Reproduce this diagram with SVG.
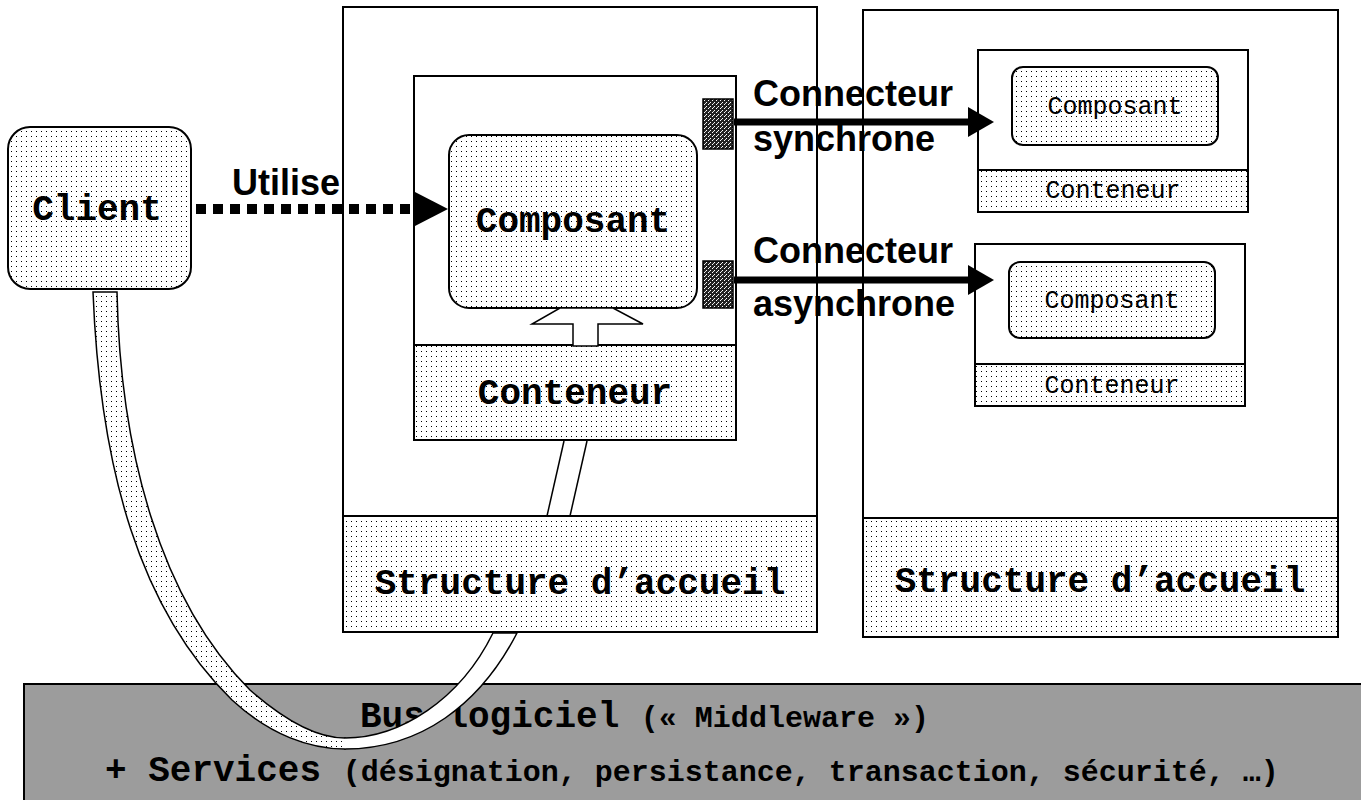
<svg xmlns="http://www.w3.org/2000/svg" width="1361" height="800" viewBox="0 0 1361 800">
  <defs>
    <!-- light stipple used for components, containers and host bands -->
    <pattern id="dots" width="5" height="5" patternUnits="userSpaceOnUse">
      <rect width="5" height="5" fill="#fff"/>
      <rect x="1" y="1" width="1" height="1" fill="#000"/>
    </pattern>
    <!-- dense dark texture of the connector ports -->
    <pattern id="dark" width="4" height="4" patternUnits="userSpaceOnUse">
      <rect width="4" height="4" fill="#222"/>
      <rect x="0" y="0" width="1" height="1" fill="#fff"/>
      <rect x="2" y="2" width="1" height="1" fill="#fff"/>
      <rect x="1" y="3" width="1" height="1" fill="#ddd"/>
    </pattern>
  </defs>
  <style>
    .box { fill: #fff; stroke: #000; stroke-width: 2; }
    .dotted { fill: url(#dots); stroke: #000; stroke-width: 2; }
    .port { fill: url(#dark); stroke: #000; stroke-width: 1.5; }
    .mono { font-family: "Liberation Mono", "Courier New", monospace; font-weight: bold; fill: #000; }
    .mono-s { font-family: "Liberation Mono", "Courier New", monospace; font-size: 25px; fill: #000; }
    .sans { font-family: "Liberation Sans", Arial, sans-serif; font-weight: bold; font-size: 36px; fill: #000; }
    .hollow { fill: #fff; stroke: #000; stroke-width: 1.5; }
    .wire { stroke: #000; stroke-width: 1.5; fill: none; }
  </style>

  <rect width="1361" height="800" fill="#fff"/>

  <!-- middleware bus -->
  <g id="bus">
    <rect x="24" y="684" width="1340" height="120" fill="#9c9c9c" stroke="#000" stroke-width="2"/>
    <text class="mono" x="360" y="727" font-size="36">Bus logiciel <tspan font-size="30">(« Middleware »)</tspan></text>
    <text class="mono" x="105" y="781" font-size="36">+ Services <tspan font-size="30">(désignation, persistance, transaction, sécurité, …)</tspan></text>
  </g>

  <!-- host structure, left -->
  <g id="host-left">
    <rect class="box" x="343" y="7" width="474" height="625"/>
    <rect class="dotted" x="343" y="516" width="474" height="116"/>
    <text class="mono" x="580" y="594" font-size="36" text-anchor="middle">Structure d’accueil</text>
  </g>

  <!-- host structure, right -->
  <g id="host-right">
    <rect class="box" x="863" y="10" width="475" height="627"/>
    <rect class="dotted" x="863" y="518" width="475" height="119"/>
    <text class="mono" x="1100" y="592" font-size="36" text-anchor="middle">Structure d’accueil</text>
  </g>

  <!-- main container -->
  <g id="container-main">
    <rect class="box" x="414" y="76" width="322" height="364"/>
    <rect class="dotted" x="414" y="345" width="322" height="95"/>
    <text class="mono" x="575" y="404" font-size="36" text-anchor="middle">Conteneur</text>
    <rect class="port" x="703" y="99" width="30" height="50"/>
    <rect class="port" x="703" y="261" width="30" height="47"/>
  </g>

  <!-- main component -->
  <g id="component-main">
    <rect class="dotted" x="449" y="135" width="248" height="173" rx="20" ry="20"/>
    <text class="mono" x="573" y="232" font-size="36" text-anchor="middle">Composant</text>
  </g>

  <!-- container reached by the synchronous connector -->
  <g id="container-sync">
    <rect class="box" x="978" y="50" width="270" height="162"/>
    <rect class="dotted" x="978" y="170" width="270" height="42"/>
    <rect class="dotted" x="1012" y="67" width="206" height="78" rx="11" ry="11"/>
    <text class="mono-s" x="1115" y="114" text-anchor="middle">Composant</text>
    <text class="mono-s" x="1113" y="198" text-anchor="middle">Conteneur</text>
  </g>

  <!-- container reached by the asynchronous connector -->
  <g id="container-async">
    <rect class="box" x="975" y="244" width="270" height="162"/>
    <rect class="dotted" x="975" y="364" width="270" height="42"/>
    <rect class="dotted" x="1009" y="262" width="206" height="76" rx="11" ry="11"/>
    <text class="mono-s" x="1112" y="308" text-anchor="middle">Composant</text>
    <text class="mono-s" x="1112" y="393" text-anchor="middle">Conteneur</text>
  </g>

  <!-- client -->
  <g id="client">
    <rect class="dotted" x="8" y="127" width="183" height="162" rx="22" ry="22"/>
    <text class="mono" x="97" y="220" font-size="36" text-anchor="middle">Client</text>
  </g>

  <!-- connectors -->
  <g id="connectors">
    <!-- client uses component -->
    <line x1="196" y1="209" x2="410" y2="209" stroke="#000" stroke-width="10" stroke-dasharray="10 7"/>
    <polygon points="415,192 448,209 415,226" fill="#000"/>
    <text class="sans" x="232" y="195">Utilise</text>

    <!-- synchronous connector -->
    <line x1="734" y1="122" x2="970" y2="122" stroke="#000" stroke-width="7"/>
    <polygon points="968,107 994,122 968,137" fill="#000"/>
    <text class="sans" x="753" y="106">Connecteur</text>
    <text class="sans" x="753" y="151">synchrone</text>

    <!-- asynchronous connector -->
    <line x1="734" y1="280" x2="970" y2="280" stroke="#000" stroke-width="7"/>
    <polygon points="968,265 994,280 968,295" fill="#000"/>
    <text class="sans" x="753" y="263">Connecteur</text>
    <text class="sans" x="753" y="316">asynchrone</text>

    <!-- container hosts component -->
    <polygon class="hollow" points="573,346 573,324 532,324 560,308 613,308 643,324 598,324 598,346"/>

    <!-- host structure supports container -->
    <line class="wire" x1="564" y1="441" x2="547" y2="516"/>
    <line class="wire" x1="587" y1="441" x2="570" y2="516"/>

    <!-- client and host plugged into the bus -->
    <path d="M93,292 C100,470 140,610 232,700 C270,735 310,749 345,749 L345,738 C320,738 290,725 250,690 C160,600 120,450 117,292 Z" fill="url(#dots)" stroke="#000" stroke-width="1.5"/>
    <path d="M345,738 C400,738 460,700 493,633 L517,633 C480,705 420,749 345,749 Z" fill="#fff" stroke="#000" stroke-width="1.5"/>
    <line x1="345" y1="738.8" x2="345" y2="748.2" stroke="#fff" stroke-width="2"/>
  </g>
</svg>
